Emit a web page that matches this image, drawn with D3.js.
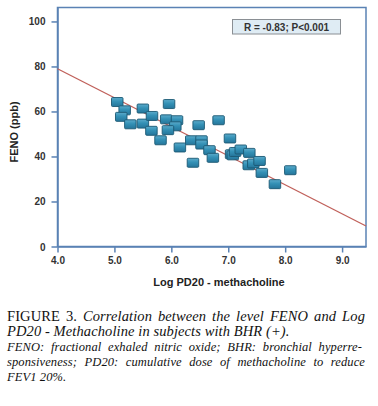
<!DOCTYPE html>
<html>
<head>
<meta charset="utf-8">
<script src="https://cdn.jsdelivr.net/npm/d3@7"></script>
<style>
  html, body { margin: 0; padding: 0; background: #ffffff; }
  svg { display: block; }
</style>
</head>
<body>
<svg id="chart" width="378" height="406"></svg>
<script>
// ---- Data ----
const pd20 = [5.05,5.18,5.12,5.28,5.50,5.50,5.66,5.65,5.81,5.96,5.91,6.10,6.07,5.94,6.48,6.83,6.15,6.35,6.53,6.53,6.67,6.73,6.38,7.03,7.05,7.08,7.12,7.22,7.37,7.36,7.44,7.55,7.59,7.82,8.09];
const feno = [64.2,60.5,57.6,54.3,61.3,54.6,58.0,51.4,47.2,63.3,56.5,56.1,53.4,51.7,53.9,56.1,44.0,47.2,47.2,45.3,42.8,39.4,37.2,48.0,41.0,40.5,42.0,43.1,41.6,36.1,36.9,38.0,32.7,27.7,33.9];
const fitX = [4.0, 9.42];
const fitY = [79.0, 9.1];
const xTicks = [4, 5, 6, 7, 8, 9];
const yTicks = [0, 20, 40, 60, 80, 100];
const statText = "R = -0.83; P<0.001";
const yTitle = "FENO (ppb)";
const xTitle = "Log PD20 - methacholine";

const svg = d3.select("#chart");
const L = 57.5, R = 366, T = 7.5, B = 246.5;

const x = d3.scaleLinear().domain([4, 9.42]).range([L, R]);
const y = d3.scaleLinear().domain([0, 106.2]).range([B, T]);

const frameColor = "#5a82b4";
const sans = "'Liberation Sans', Arial, sans-serif";

// gradient for squares
const defs = svg.append("defs");
const g = defs.append("linearGradient").attr("id", "sq").attr("x1", 0).attr("y1", 0).attr("x2", 0).attr("y2", 1);
g.append("stop").attr("offset", "0%").attr("stop-color", "#5cabcb");
g.append("stop").attr("offset", "45%").attr("stop-color", "#3390b5");
g.append("stop").attr("offset", "100%").attr("stop-color", "#25759a");

// frame
svg.append("rect").attr("x", L).attr("y", T).attr("width", R - L).attr("height", B - T)
  .attr("fill", "none").attr("stroke", frameColor).attr("stroke-width", 1.5);

// axes
const xAxis = d3.axisBottom(x).tickValues(xTicks).tickFormat(d3.format(".1f")).tickSize(6).tickSizeOuter(0);
const yAxis = d3.axisLeft(y).tickValues(yTicks).tickFormat(d3.format("d")).tickSize(6).tickSizeOuter(0);

const gx = svg.append("g").attr("transform", `translate(0,${B})`).call(xAxis);
const gy = svg.append("g").attr("transform", `translate(${L},0)`).call(yAxis);
[gx, gy].forEach(a => {
  a.select(".domain").attr("stroke", frameColor).attr("stroke-width", 1.5);
  a.selectAll(".tick line").attr("stroke", frameColor).attr("stroke-width", 1.5);
  a.selectAll(".tick text").attr("fill", "#333").attr("font-family", sans)
    .attr("font-weight", "bold").attr("font-size", "10px");
});
gx.selectAll(".tick text").attr("dy", "0").attr("y", 17);
gy.selectAll(".tick text").attr("x", -12).attr("dy", "0.35em");

// regression line
svg.append("line")
  .attr("x1", x(fitX[0])).attr("y1", y(fitY[0]))
  .attr("x2", x(fitX[1])).attr("y2", y(fitY[1]))
  .attr("stroke", "#c0605a").attr("stroke-width", 1.3);

// points
const pts = pd20.map((v, i) => ({x: v, y: feno[i]}));
const W = 11.5, H = 9;
svg.append("g").selectAll("rect").data(pts).join("rect")
  .attr("x", d => x(d.x) - W / 2).attr("y", d => y(d.y) - H / 2)
  .attr("width", W).attr("height", H).attr("rx", 1)
  .attr("fill", "url(#sq)").attr("stroke", "#1b5873").attr("stroke-width", 0.9);

// stat box
svg.append("rect").attr("x", 232.5).attr("y", 19.5).attr("width", 108).attr("height", 14.5)
  .attr("fill", "#dfecf4").attr("stroke", "#8a8f94").attr("stroke-width", 1);
svg.append("text").attr("x", 286.5).attr("y", 30.5).attr("text-anchor", "middle")
  .attr("font-family", sans).attr("font-weight", "bold").attr("font-size", "10px").attr("fill", "#333")
  .text(statText);

// axis titles
svg.append("text").attr("transform", "translate(18,132) rotate(-90)").attr("text-anchor", "middle")
  .attr("font-family", sans).attr("font-weight", "bold").attr("font-size", "11px").attr("fill", "#222")
  .text(yTitle);
svg.append("text").attr("x", 219).attr("y", 286).attr("text-anchor", "middle")
  .attr("font-family", sans).attr("font-weight", "bold").attr("font-size", "11px").attr("fill", "#222")
  .text(xTitle);

// caption
const serif = "'Liberation Serif', 'Times New Roman', serif";
const capLines = [
  {parts: [["FIGURE 3. ", "normal"], ["Correlation between the level FENO and Log", "italic"]], y: 320.5, size: 14.5, width: 358, justify: true},
  {parts: [["PD20 - Methacholine in subjects with BHR (+).", "italic"]], y: 336, size: 14.5, width: 0, justify: false},
  {parts: [["FENO: fractional exhaled nitric oxide; BHR: bronchial hyperre-", "italic"]], y: 351, size: 12.5, width: 355, justify: true},
  {parts: [["sponsiveness; PD20: cumulative dose of methacholine to reduce", "italic"]], y: 366, size: 12.5, width: 358, justify: true},
  {parts: [["FEV1 20%.", "italic"]], y: 381, size: 12.5, width: 0, justify: false}
];
capLines.forEach(l => {
  const t = svg.append("text").attr("x", 7).attr("y", l.y)
    .attr("font-family", serif).attr("font-size", l.size + "px").attr("fill", "#111")
    .attr("letter-spacing", "0.1px");
  l.parts.forEach(p => t.append("tspan").attr("font-style", p[1]).text(p[0]));
  if (!l.justify) return;
  const nat = t.node().getComputedTextLength();
  const full = l.parts.map(p => p[0]).join("");
  const spaces = (full.match(/ /g) || []).length;
  if (nat < l.width && spaces > 0) {
    t.attr("word-spacing", ((l.width - nat) / spaces) + "px");
  } else {
    t.attr("textLength", l.width).attr("lengthAdjust", "spacingAndGlyphs");
  }
});
</script>
</body>
</html>
